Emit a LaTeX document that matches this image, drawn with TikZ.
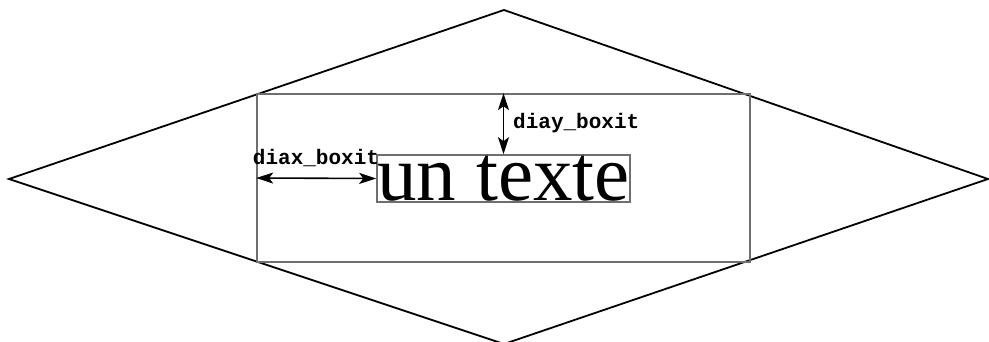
\documentclass[tikz,border=0pt]{standalone}
\usepackage{fontspec}
\setmainfont{Liberation Serif}
\newfontfamily\codefont{Liberation Mono}
\usetikzlibrary{arrows.meta}
\definecolor{boxgray}{HTML}{6E6E6E}
\begin{document}
\begin{tikzpicture}[x=1pt,y=-1pt,
  diamondline/.style={line width=1.8pt, line join=miter},
  grayframe/.style={draw=boxgray, line width=1.6pt, inner sep=0pt, fill=none},
  dimarrow/.style={line width=1.6pt, {Stealth[length=17pt,width=11pt,inset=4pt]}-{Stealth[length=17pt,width=11pt,inset=4pt]}},
  codelabel/.style={font=\codefont\bfseries\fontsize{21}{21}\selectfont, inner sep=0pt}]
\useasboundingbox (0,0) rectangle (989,342);
\coordinate (T) at (504,10);
\coordinate (L) at (9,179);
\coordinate (R) at (988,179);
\coordinate (B) at (504,344);
\draw[diamondline] (T)--(R)--(B)--(L)--cycle;
\node[grayframe, minimum width=493pt, minimum height=168pt] (outer) at (503.5,178) {};
\node[grayframe, minimum width=253pt, minimum height=47pt] (box) at (503.5,178.5) {};
\node[anchor=base, inner sep=0pt, font=\fontsize{79}{79}\selectfont] (txt) at (503.5,201) {un texte};
\draw[dimarrow] (outer.west) -- (box.west);
\draw[dimarrow] (outer.north) -- (box.north);
\node[codelabel, anchor=base] (lx) at (316,165) {diax\_boxit};
\node[codelabel, anchor=base west] (ly) at (513,129) {diay\_boxit};
\end{tikzpicture}
\end{document}
